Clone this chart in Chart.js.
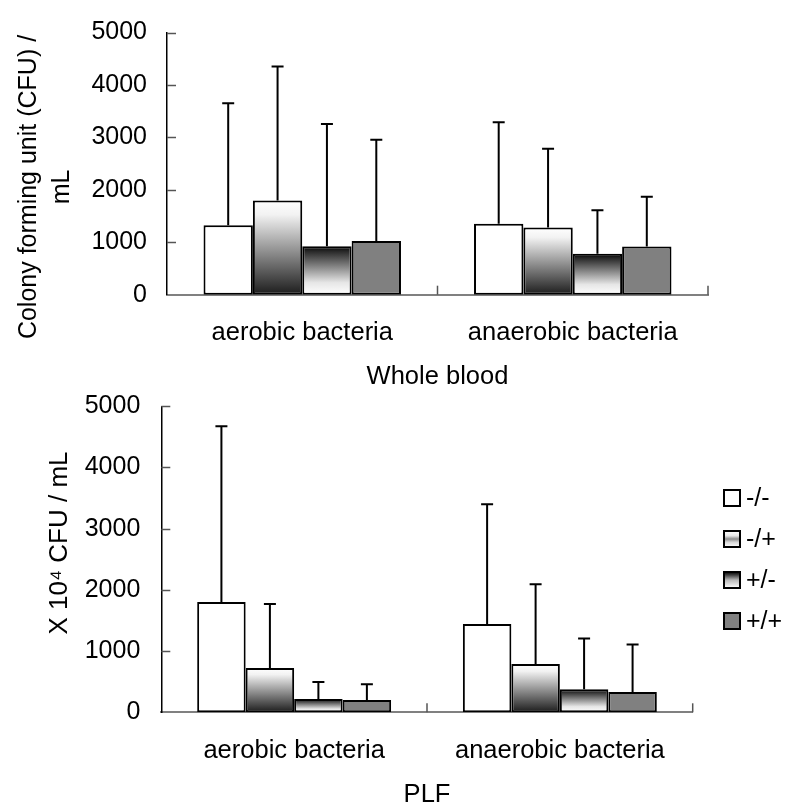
<!DOCTYPE html>
<html>
<head>
<meta charset="utf-8">
<script src="https://cdn.jsdelivr.net/npm/chart.js@4.4.1/dist/chart.umd.min.js"></script>
<style>
  html, body { margin: 0; padding: 0; background: #fff; }
  #wrap { position: relative; width: 785px; height: 807px; overflow: hidden; }
  canvas { position: absolute; left: 0; }
  #whole { top: 0; }
  #plf { top: 370px; }
</style>
</head>
<body>
<div id="wrap">
  <canvas id="whole" width="785" height="400"></canvas>
  <canvas id="plf" width="785" height="437"></canvas>
</div>
<script>
const categories = ['aerobic bacteria', 'anaerobic bacteria'];
const groups = ['-/-', '-/+', '+/-', '+/+'];
const yTicks = [0, 1000, 2000, 3000, 4000, 5000];

// Whole blood, mean CFU/mL per group (aerobic, anaerobic)
const wholeMM = [1323, 1355];
const wholeMP = [1796, 1281];
const wholePM = [926, 779];
const wholePP = [1024, 919];
// Whole blood, SD (upper whisker length)
const wholeMMsd = [2330, 1935];
const wholeMPsd = [2555, 1502];
const wholePMsd = [2328, 833];
const wholePPsd = [1930, 950];

// PLF, mean x10^4 CFU/mL
const plfMM = [1802, 1443];
const plfMP = [724, 789];
const plfPM = [217, 376];
const plfPP = [201, 332];
// PLF, SD
const plfMMsd = [2871, 1957];
const plfMPsd = [1046, 1303];
const plfPMsd = [278, 828];
const plfPPsd = [257, 774];

const FONT = '"Liberation Sans", Arial, sans-serif';
Chart.defaults.font.family = FONT;
Chart.defaults.font.size = 25;
Chart.defaults.color = '#000';

const fills = ['white', 'down', 'up', 'gray'];

function paint(ctx, kind, top, bottom, small) {
  if (kind === 'white') return '#ffffff';
  if (kind === 'gray') return '#808080';
  if (!Number.isFinite(top) || !Number.isFinite(bottom) || top === bottom) return '#808080';
  const g = ctx.createLinearGradient(0, top, 0, bottom);
  if (small && kind === 'down') {
    g.addColorStop(0, '#ffffff');
    g.addColorStop(0.3, '#e8e8e8');
    g.addColorStop(0.5, '#8c8c8c');
    g.addColorStop(0.7, '#d8d8d8');
    g.addColorStop(1, '#ffffff');
  } else if (small) {
    g.addColorStop(0, '#000000');
    g.addColorStop(0.2, '#444444');
    g.addColorStop(0.5, '#b8b8b8');
    g.addColorStop(1, '#ffffff');
  } else if (kind === 'down') {
    g.addColorStop(0, '#ffffff');
    g.addColorStop(0.15, '#f2f2f2');
    g.addColorStop(1, '#1c1c1c');
  } else {
    g.addColorStop(0, '#000000');
    g.addColorStop(0.1, '#262626');
    g.addColorStop(0.75, '#e6e6e6');
    g.addColorStop(1, '#ffffff');
  }
  return g;
}

function barFill(kind) {
  return function (c) {
    const chart = c.chart;
    const y = chart.scales.y;
    if (!y || !c.parsed || kind === 'white' || kind === 'gray') return paint(chart.ctx, kind, 0, 1);
    return paint(chart.ctx, kind, y.getPixelForValue(c.parsed.y), y.getPixelForValue(0));
  };
}

function makeDatasets(values) {
  return values.map((v, i) => ({
    label: groups[i],
    data: v,
    backgroundColor: barFill(fills[i]),
    borderColor: '#000',
    borderWidth: 2,
    borderSkipped: false
  }));
}

function extrasPlugin(sds, yTitle, legend) {
  return {
    id: 'extras',
    afterDatasetsDraw(chart) {
      const ctx = chart.ctx;
      const y = chart.scales.y;
      ctx.save();
      ctx.strokeStyle = '#000';
      ctx.lineWidth = 2;
      chart.data.datasets.forEach((ds, i) => {
        chart.getDatasetMeta(i).data.forEach((bar, j) => {
          const top = y.getPixelForValue(ds.data[j] + sds[i][j]);
          ctx.beginPath();
          ctx.moveTo(bar.x, bar.y);
          ctx.lineTo(bar.x, top);
          ctx.moveTo(bar.x - 6, top);
          ctx.lineTo(bar.x + 6, top);
          ctx.stroke();
        });
      });
      ctx.restore();
    },
    afterDraw(chart) {
      const ctx = chart.ctx;
      const x = chart.scales.x;
      const y = chart.scales.y;
      const area = chart.chartArea;
      ctx.save();
      // tick marks inside the plot, as in the original
      ctx.strokeStyle = '#555';
      ctx.lineWidth = 1.5;
      y.ticks.forEach(t => {
        if (t.value === 0) return;
        const py = Math.round(y.getPixelForValue(t.value)) + 0.5;
        ctx.beginPath();
        ctx.moveTo(area.left, py);
        ctx.lineTo(area.left + 9, py);
        ctx.stroke();
      });
      const n = chart.data.labels.length;
      for (let i = 1; i <= n; i++) {
        const px = x.left + i * x.width / n;
        ctx.beginPath();
        ctx.moveTo(px, area.bottom);
        ctx.lineTo(px, area.bottom - 9);
        ctx.stroke();
      }
      // y axis title
      ctx.fillStyle = '#000';
      ctx.font = yTitle.size + 'px ' + FONT;
      ctx.textAlign = 'center';
      ctx.textBaseline = 'middle';
      yTitle.lines.forEach((line, k) => {
        ctx.save();
        ctx.translate(yTitle.x + k * yTitle.gap, yTitle.y);
        ctx.rotate(-Math.PI / 2);
        ctx.fillText(line, 0, 0);
        ctx.restore();
      });
      // legend
      if (legend) {
        ctx.font = '25px ' + FONT;
        ctx.textAlign = 'left';
        chart.data.datasets.forEach((ds, i) => {
          const cy = legend.y + i * legend.step;
          const bx = legend.x, by = cy - 8;
          ctx.fillStyle = paint(ctx, fills[i], by, by + 16, true);
          ctx.fillRect(bx, by, 16, 16);
          ctx.strokeStyle = '#000';
          ctx.lineWidth = 2;
          ctx.strokeRect(bx, by, 16, 16);
          ctx.fillStyle = '#000';
          ctx.fillText(ds.label, bx + 22, cy + 1);
        });
      }
      ctx.restore();
    }
  };
}

function makeChart(id, values, sds, opts) {
  return new Chart(document.getElementById(id), {
    type: 'bar',
    data: { labels: categories, datasets: makeDatasets(values) },
    options: {
      responsive: false,
      animation: false,
      events: [],
      layout: { padding: { left: 0, right: opts.right, top: opts.top, bottom: 0 } },
      datasets: { bar: { categoryPercentage: 0.73, barPercentage: 1 } },
      plugins: { legend: { display: false }, tooltip: { enabled: false } },
      scales: {
        x: {
          grid: { display: false, drawTicks: false },
          border: { color: '#808080', width: 2 },
          ticks: { padding: 23, font: { size: 25.5 } },
          title: { display: true, text: opts.xTitle, padding: { top: 0, bottom: opts.titlePad }, font: { size: 25.5, lineHeight: 1.2 } },
          afterFit(s) { s.height = opts.xHeight; }
        },
        y: {
          min: yTicks[0],
          max: yTicks[yTicks.length - 1],
          afterBuildTicks(s) { s.ticks = yTicks.map(v => ({ value: v })); },
          grid: { display: false, drawTicks: false },
          border: { color: '#000', width: 1.5 },
          ticks: { padding: opts.tickPad, font: { size: 25, lineHeight: 1 }, callback: v => String(v) },
          afterFit(s) { s.width = opts.axisX; }
        }
      }
    },
    plugins: [extrasPlugin(sds, opts.yTitle, opts.legend)]
  });
}

makeChart('whole', [wholeMM, wholeMP, wholePM, wholePP], [wholeMMsd, wholeMPsd, wholePMsd, wholePPsd], {
  top: 22.7, right: 77, axisX: 167, xHeight: 105.3, tickPad: 20, titlePad: 8,
  xTitle: 'Whole blood',
  yTitle: { lines: ['Colony forming unit (CFU) /', 'mL'], x: 29, y: 187, gap: 33, size: 25 }
});

makeChart('plf', [plfMM, plfMP, plfPM, plfPP], [plfMMsd, plfMPsd, plfPMsd, plfPPsd], {
  top: 36.3, right: 92.3, axisX: 161.3, xHeight: 94.7, tickPad: 21, titlePad: -3,
  xTitle: 'PLF',
  yTitle: { lines: ['X 10\u2074 CFU / mL'], x: 60, y: 173, gap: 0, size: 26 },
  legend: { x: 724, y: 128, step: 41 }
});
</script>
</body>
</html>
